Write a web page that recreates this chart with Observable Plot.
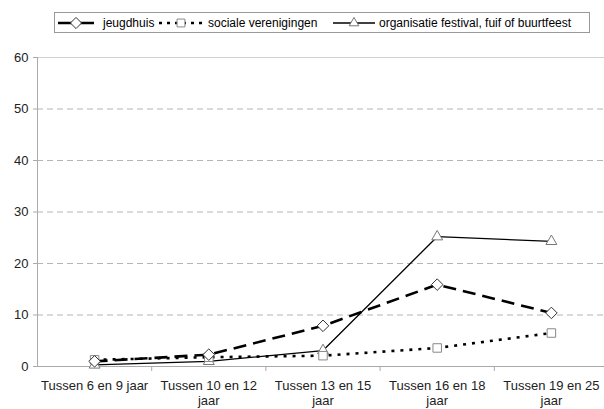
<!DOCTYPE html>
<html>
<head>
<meta charset="utf-8">
<script src="https://cdn.jsdelivr.net/npm/d3@7"></script>
<script src="https://cdn.jsdelivr.net/npm/@observablehq/plot@0.6"></script>
<style>
  html, body { margin: 0; padding: 0; background: #fff; }
  #wrap { position: relative; width: 604px; height: 409px; overflow: hidden; font-family: "Liberation Sans", Arial, sans-serif; }
  #legend { position: absolute; left: 54px; top: 12px; width: 536px; height: 21px; border: 1px solid #999; box-sizing: border-box; font-size: 12px; color: #000; white-space: nowrap; }
  #legend .item { position: absolute; top: 0; height: 19px; display: flex; align-items: center; }
  #legend svg { display: block; }
  #chart { position: absolute; left: 0; top: 40px; }
</style>
</head>
<body>
<div id="wrap">
  <div id="legend"></div>
  <div id="chart"></div>
</div>
<script>
// ---- data ----
const categories = ["Tussen 6 en 9 jaar", "Tussen 10 en 12\njaar", "Tussen 13 en 15\njaar", "Tussen 16 en 18\njaar", "Tussen 19 en 25\njaar"];
const seriesNames = ["jeugdhuis", "sociale verenigingen", "organisatie festival, fuif of buurtfeest"];
const jeugdhuis = [1.0, 2.3, 7.9, 15.9, 10.4];
const socialeVerenigingen = [1.3, 1.8, 2.1, 3.6, 6.5];
const organisatieFestival = [0.3, 1.0, 3.1, 25.2, 24.3];
const yTicks = [0, 10, 20, 30, 40, 50, 60];

// ---- styles per series ----
const styles = [
  {values: jeugdhuis, strokeWidth: 2.6, dash: "13,7", symbol: "diamond2", r: 5.2, mstroke: "#333",
   legLeft: 3, legW: 36, legDash: null, legGap: 9},
  {values: socialeVerenigingen, strokeWidth: 2.6, dash: "3,6", symbol: "square2", r: 5.4, mstroke: "#888",
   legLeft: 104, legW: 44, legDash: "3,5", legGap: 5},
  {values: organisatieFestival, strokeWidth: 1.3, dash: null, symbol: "triangle2", r: 5.2, mstroke: "#777",
   legLeft: 278, legW: 42, legDash: null, legGap: 4}
];

const rows = styles.map((s, k) => s.values.map((v, i) => ({series: seriesNames[k], i, v})));

const lineMarks = [2, 1, 0].map(k => Plot.line(rows[k], {
  x: "i", y: "v", stroke: "#000", strokeWidth: styles[k].strokeWidth,
  strokeDasharray: styles[k].dash || undefined, strokeLinecap: "butt"
}));
const dotMarks = [2, 1, 0].map(k => Plot.dot(rows[k], {
  x: "i", y: "v", symbol: () => styles[k].symbol, r: styles[k].r,
  fill: "#fff", stroke: styles[k].mstroke, strokeWidth: 1
}));

const chart = Plot.plot({
  width: 604,
  height: 369,
  marginTop: 17,
  marginBottom: 43,
  marginLeft: 37,
  marginRight: 0,
  x: {type: "linear", domain: [-0.5, 4.5], range: [37, 608]},
  y: {domain: [0, 60]},
  style: {fontFamily: "'Liberation Sans', Arial, sans-serif", fontSize: "13px", background: "#fff", color: "#000"},
  marks: [
    Plot.gridY(yTicks.filter(t => t > 0 && t < 60), {stroke: "#b4b4b4", strokeOpacity: 1, strokeDasharray: "6,4"}),
    Plot.ruleY([60], {stroke: "#d0d0d0"}),
    Plot.axisY({ticks: yTicks, tickSize: 4, tickPadding: 5, stroke: "#aaa", fill: "#222", label: null}),
    Plot.axisX({ticks: [0.5, 1.5, 2.5, 3.5], tickSize: 5, tickFormat: () => "", stroke: "#aaa", label: null}),
    Plot.axisX({ticks: [0, 1, 2, 3, 4], tickSize: 0, tickPadding: 13, tickFormat: i => categories[i], lineHeight: 1.15, fill: "#222", label: null}),
    Plot.ruleX([-0.5], {stroke: "#aaa"}),
    Plot.ruleY([0], {stroke: "#aaa"}),
    ...lineMarks,
    ...dotMarks
  ]
});
document.getElementById("chart").appendChild(chart);

// ---- legend ----
const legend = d3.select("#legend");
const symPath = {
  diamond2: d3.symbol(d3.symbolDiamond2, Math.PI * 5 * 5)(),
  square2: d3.symbol(d3.symbolSquare2, Math.PI * 5 * 5)(),
  triangle2: d3.symbol(d3.symbolTriangle2, Math.PI * 4.6 * 4.6)()
};
styles.forEach((s, k) => {
  const item = legend.append("div").attr("class", "item").style("left", s.legLeft + "px");
  const svg = item.append("svg").attr("width", s.legW).attr("height", 14).style("margin-right", s.legGap + "px");
  svg.append("line").attr("x1", 0).attr("x2", s.legW).attr("y1", 7).attr("y2", 7)
    .attr("stroke", "#000").attr("stroke-width", s.strokeWidth)
    .attr("stroke-dasharray", s.legDash);
  svg.append("path").attr("d", symPath[s.symbol]).attr("transform", `translate(${s.legW / 2},7)`)
    .attr("fill", "#fff").attr("stroke", s.mstroke).attr("stroke-width", 1);
  item.append("span").text(seriesNames[k]);
});
</script>
</body>
</html>
